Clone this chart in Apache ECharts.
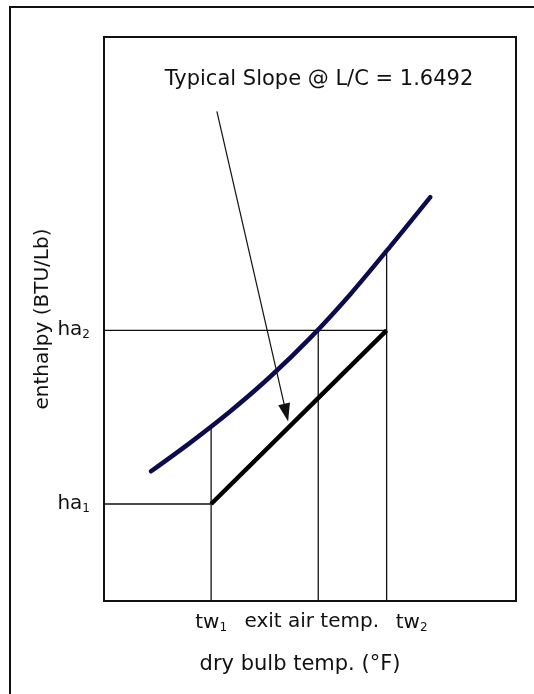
<!DOCTYPE html>
<html>
<head>
<meta charset="utf-8">
<script src="https://cdn.jsdelivr.net/npm/echarts@6/dist/echarts.min.js"></script>
<style>
html,body{margin:0;padding:0;background:#fff;}
#chart{width:534px;height:694px;}
</style>
</head>
<body>
<div id="chart"></div>
<script>
// ---- data ----
const xRange = [60, 110];            // dry bulb temp. (°F), arbitrary scale
const yRange = [20, 70];             // enthalpy (BTU/Lb), arbitrary scale
const curveTemp     = [65.7, 70.4, 75.3, 80.2, 85.0, 89.9, 94.7, 99.6];
const curveEnthalpy = [31.5, 34.0, 36.8, 39.9, 43.3, 47.2, 51.4, 55.8];
const tempTicks = [73.0, 86.0, 94.3];                 // tw1, exit air temp., tw2
const tempTickLabels = ['tw1', 'exit air temp.', 'tw2'];
const enthalpyTicks = [28.6, 44.0];                    // ha1, ha2
const enthalpyTickLabels = ['ha1', 'ha2'];
const curveAtTicks = [35.3, 44.0, 51.0];               // saturation curve at tw1, exit, tw2
const arrowStart = [73.7, 63.4];
const arrowEnd = [82.1, 36.7];
const slopeText = 'Typical Slope @ L/C = 1.6492';
const xName = 'dry bulb temp. (°F)';
const yName = 'enthalpy (BTU/Lb)';

const FONT = 'DejaVu Sans';
const INK = '#111';
const FS = 20;

function guide(points) {
  return {
    type: 'line', data: points, symbol: 'none', silent: true,
    lineStyle: { color: INK, width: 1.3 }, z: 2
  };
}

const guides = [
  guide([[xRange[0], enthalpyTicks[0]], [tempTicks[0], enthalpyTicks[0]]]),
  guide([[xRange[0], enthalpyTicks[1]], [tempTicks[2], enthalpyTicks[1]]]),
  guide([[tempTicks[0], yRange[0]], [tempTicks[0], curveAtTicks[0]]]),
  guide([[tempTicks[1], yRange[0]], [tempTicks[1], curveAtTicks[1]]]),
  guide([[tempTicks[2], yRange[0]], [tempTicks[2], curveAtTicks[2]]])
];

function subLabel(s) {
  return '{b|' + s.slice(0, -1) + '}{s|' + s.slice(-1) + '}';
}
const richSub = {
  b: { fontFamily: FONT, fontSize: FS, color: INK },
  s: { fontFamily: FONT, fontSize: 12, color: INK, padding: [10, 0, 0, 0] },
  e: { fontFamily: FONT, fontSize: FS, color: INK, padding: [0, 13, 0, 0] },
  t2: { fontFamily: FONT, fontSize: FS, color: INK, padding: [0, 0, 0, 50] },
  s2: { fontFamily: FONT, fontSize: 12, color: INK, padding: [10, 0, 0, 0] }
};

const chart = echarts.init(document.getElementById('chart'), null, { renderer: 'canvas' });
chart.setOption({
  animation: false,
  backgroundColor: '#fff',
  grid: { left: 104, right: 18, top: 37, bottom: 93, show: true, borderColor: INK, borderWidth: 2, containLabel: false },
  xAxis: {
    type: 'value', min: xRange[0], max: xRange[1],
    axisLine: { show: false }, axisTick: { show: false }, splitLine: { show: false },
    name: xName, nameLocation: 'middle', nameGap: 53, nameMoveOverlap: false,
    nameTextStyle: { fontFamily: FONT, fontSize: 21, color: INK, padding: [0, 20, 0, 0] },
    axisLabel: {
      customValues: tempTicks, margin: 11, color: INK, fontFamily: FONT, fontSize: FS,
      formatter: function (v) {
        const i = tempTicks.indexOf(v);
        const t = tempTickLabels[i];
        if (i === 0) return subLabel(t);
        if (i === 1) return '{e|' + t + '}';
        return '{t2|' + t.slice(0, -1) + '}{s2|' + t.slice(-1) + '}';
      },
      rich: richSub
    }
  },
  yAxis: {
    type: 'value', min: yRange[0], max: yRange[1],
    axisLine: { show: false }, axisTick: { show: false }, splitLine: { show: false },
    name: yName, nameLocation: 'middle', nameGap: 51, nameMoveOverlap: false,
    nameTextStyle: { fontFamily: FONT, fontSize: FS, color: INK },
    axisLabel: {
      customValues: enthalpyTicks, margin: 14, color: INK, fontFamily: FONT, fontSize: FS,
      formatter: function (v) { return subLabel(enthalpyTickLabels[enthalpyTicks.indexOf(v)]); },
      rich: richSub
    }
  },
  graphic: [
    { type: 'rect', shape: { x: 10, y: 7, width: 620, height: 800 },
      style: { fill: 'none', stroke: INK, lineWidth: 2 }, silent: true, z: -1 },
    { type: 'text', x: 319, y: 80,
      style: { text: slopeText, fontFamily: FONT, fontSize: 21, fill: INK, align: 'center', verticalAlign: 'middle' } }
  ],
  series: guides.concat([
    {
      type: 'line', name: 'operating line', symbol: 'none', silent: true, z: 4,
      data: [[tempTicks[0], enthalpyTicks[0]], [tempTicks[2], enthalpyTicks[1]]],
      lineStyle: { color: '#000', width: 4.5 }
    },
    {
      type: 'line', name: 'saturation curve', symbol: 'none', silent: true, smooth: 0.3, z: 5,
      data: curveTemp.map(function (x, i) { return [x, curveEnthalpy[i]]; }),
      lineStyle: { color: '#0b0b4d', width: 4.5, cap: 'round' },
      markLine: {
        silent: true, symbol: ['none', 'triangle'], symbolSize: [12, 18], label: { show: false },
        lineStyle: { color: INK, width: 1.2, type: 'solid' },
        data: [[{ coord: arrowStart }, { coord: arrowEnd }]]
      }
    }
  ])
});
</script>
</body>
</html>
